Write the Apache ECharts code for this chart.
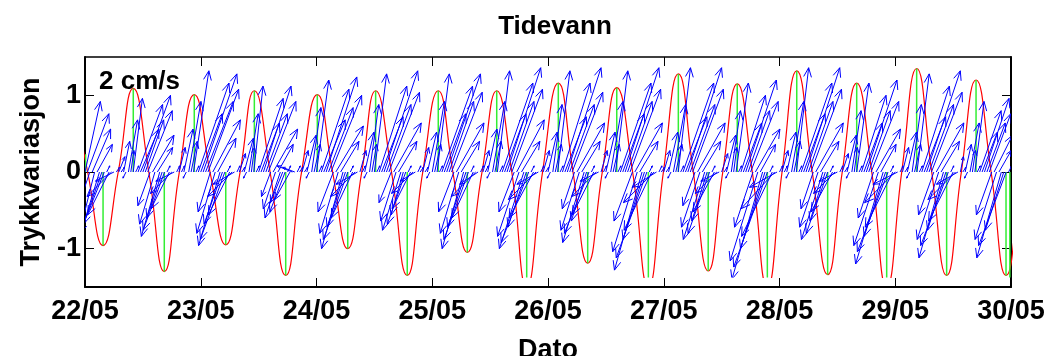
<!DOCTYPE html>
<html>
<head>
<meta charset="utf-8">
<script src="https://cdn.jsdelivr.net/npm/echarts@6/dist/echarts.min.js"></script>
<style>
  html, body { margin: 0; padding: 0; background: #fff; }
  #main { width: 1049px; height: 356px; }
</style>
</head>
<body>
<div id="main"></div>
<script>
    var FONT = '"Liberation Sans", Arial, Helvetica, sans-serif';

    var dayLabels = ['22/05', '23/05', '24/05', '25/05', '26/05', '27/05', '28/05', '29/05', '30/05'];
    var yTicks = [-1, 0, 1];

    // hoy- og lavvann: tid i dogn fra 22/05 00:00, niva
    var extT = [-0.11, 0.156, 0.417, 0.685, 0.944, 1.216, 1.463, 1.734, 2.007, 2.270, 2.511, 2.784, 3.052, 3.303,
        3.557, 3.816, 4.089, 4.343, 4.594, 4.867, 5.126, 5.384, 5.635, 5.895, 6.149, 6.416, 6.667, 6.926,
        7.185, 7.444, 7.698, 7.957, 8.22];
    var extH = [1.0, -0.96, 1.09, -1.30, 1.01, -0.95, 1.06, -1.35, 1.01, -1.00, 1.06, -1.35, 1.06, -1.05,
        1.06, -1.5, 1.16, -1.19, 1.10, -1.5, 1.28, -1.29, 1.15, -1.5, 1.32, -1.34, 1.16, -1.5,
        1.35, -1.35, 1.20, -1.35, 1.2];
    // nullgjennomganger
    var zeroT = [0.023, 0.287, 0.551, 0.815, 1.080, 1.340, 1.599, 1.871, 2.139, 2.391, 2.648, 2.918, 3.178,
        3.430, 3.687, 3.953, 4.216, 4.469, 4.731, 4.997, 5.255, 5.510, 5.765, 6.022, 6.283, 6.542, 6.797,
        7.056, 7.315, 7.571, 7.828, 8.09];
    // gronne pinner i kantene
    var edgeT = [0.005, 7.99];
    var edgeH = [0.23, -1.5];

    // strom (cm/s), hver halvtime fra 22/05 00:00
    var curStepH = 0.5;
    var curU = [
        0.5, 0.7, -0.4, 0.6, -0.6, 0.5, -0.7, -0.6, -0.8, 0.1, -0.7, -0.8, -0.6, 0.1,
        0.2, 0.1, 0.2, -0.1, 0.3, 0.1, 0.3, 0.1, 0.8, 0.6, 0.9, 0.6, 0.8, -0.4, 0.7, -0.5, 0.5, -0.6, -0.5, -0.7, 0.1, -0.6, -0.7, -0.6, 0.1,
        0.2, 0.1, 0.3, -0.1, 0.4, 0.2, 0.5, 0.1, 1.0, 0.7, 1.1, 0.9, 1.0, -0.4, 0.9, -0.6, 0.6, -0.7, -0.6, -0.8, 0.1, -0.7, -0.8, -0.7, 0.1,
        0.2, 0.1, 0.3, -0.1, 0.3, 0.1, 0.3, 0.1, 0.8, 0.6, 0.9, 0.7, 0.9, -0.3, 0.8, -0.4, 0.5, -0.5, -0.4, -0.5, 0.1, -0.5, -0.5, -0.4, 0.1, 0.1,
        0.2, 0.1, 0.3, -0.1, 0.3, 0.2, 0.4, 0.1, 0.9, 0.7, 1.0, 0.8, 1.0, -0.5, 0.9, -0.6, 0.6, -0.7, -0.6, -0.8, 0.1, -0.7, -0.8, -0.7,
        0.2, 0.1, 0.3, -0.1, 0.3, 0.15, 0.4, 0.1, 0.9, 0.7, 1.1, 0.8, 1.0, -0.4, 0.9, -0.5, 0.6, -0.6, -0.4, -0.6, 0.1, -0.6, -0.7, -0.5, 0.1, 0.1,
        0.2, 0.1, 0.3, -0.1, 0.4, 0.2, 0.4, 0.1, 1.0, 0.7, 1.1, 0.8, 1.0, -0.5, 0.9, -0.6, 0.6, -0.7, -0.6, -0.8, 0.1, -0.7, -0.8, -0.6, 0.1,
        0.2, 0.1, 0.3, -0.1, 0.4, 0.2, 0.4, 0.1, 1.0, 0.7, 1.1, 0.8, 1.0, -0.5, 0.9, -0.7, 0.6, -0.8, -0.6, -0.9, 0.1, -0.8, -0.9, -0.7, 0.1,
        0.2, 0.1, 0.3, -0.1, 0.3, 0.2, 0.4, 0.1, 0.9, 0.7, 1.1, 0.8, 1.0, -0.4, 0.9, -0.6, 0.6, -0.7, -0.5, -0.8, 0.1, -0.7, -0.8, -0.6,
        0.2, 0.1, 0.3, -0.1, 0.4, 0.2, 0.4, 0.1, 1.0, 0.7, 1.1, 0.8, 1.0, -0.6, 0.9, -0.8, 0.6, -0.9, -0.7, -1.0, 0.1, -0.9, -1.0, -0.8, 0.1, 0.1,
        0.2, 0.1, 0.3, -0.1, 0.4, 0.2, 0.4, 0.1, 1.0, 0.7, 1.1, 0.8, 1.0, -0.4, 0.9, -0.6, 0.6, -0.7, -0.5, -0.7, 0.1, -0.7, -0.7, -0.6,
        0.2, 0.1, 0.3, -0.1, 0.3, 0.1, 0.4, 0.1, 0.8, 0.6, 1.0, 0.7, 0.9, -0.6, 0.8, -0.9, 0.5, -1.0, -0.8, -1.1, 0.1, -1.0, -1.1, -0.9, 0.1,
        0.2, 0.1, 0.3, -0.1, 0.4, 0.2, 0.4, 0.1, 1.0, 0.7, 1.1, 0.8, 1.0, -0.4, 0.9, -0.6, 0.6, -0.7, -0.5, -0.7, 0.1, -0.7, -0.7, -0.6, 0.1,
        0.2, 0.1, 0.3, -0.1, 0.3, 0.1, 0.4, 0.1, 0.8, 0.6, 1.0, 0.7, 0.9, -0.5, 0.8, -0.8, 0.5, -0.9, -0.7, -1.0, 0.1, -0.9, -1.0, -0.8, 0.1,
        0.2, 0.1, 0.3, -0.1, 0.3, 0.2, 0.4, 0.1, 0.9, 0.7, 1.1, 0.8, 1.0, -0.5, 0.9, -0.7, 0.6, -0.8, -0.6, -0.9, 0.1, -0.8, -0.9, -0.7,
        0.1, 0.1, 0.2, -0.1, 0.3, 0.1, 0.3, 0.1, 0.7, 0.5, 0.8, 0.6, 0.7, -0.5, 0.6, -0.7, 0.4, -0.8, -0.6, -0.9, 0.1
    ];
    var curV = [
        2.3, 1.9, -1.2, 1.4, -2.4, 0.9, -2.3, -1.7, -2.0, 0.2, -1.4, -0.8, -0.3, 0.15,
        0.5, 0.15, 1.0, -0.2, 1.7, 0.7, 2.4, 0.2, 2.2, 1.4, 2.5, 1.7, 2.0, -1.1, 1.2, -1.7, 0.8, -2.1, -1.5, -1.9, 0.2, -1.2, -0.7, -0.3, 0.2,
        0.8, 0.2, 1.4, -0.2, 2.3, 1.0, 3.3, 0.2, 2.9, 1.9, 3.2, 2.3, 2.7, -1.3, 1.7, -2.0, 1.1, -2.4, -1.7, -2.2, 0.2, -1.4, -0.8, -0.4, 0.2,
        0.6, 0.15, 1.1, -0.2, 1.9, 0.8, 2.8, 0.2, 2.4, 1.6, 2.8, 1.9, 2.3, -0.8, 1.4, -1.2, 0.9, -1.5, -1.0, -1.3, 0.2, -0.9, 0.2, 0.15, 0.2, 0.15,
        0.7, 0.15, 1.2, -0.2, 2.1, 0.9, 3.0, 0.2, 2.7, 1.7, 3.1, 2.1, 2.5, -1.3, 1.5, -2.0, 1.0, -2.5, -1.8, -2.2, 0.2, -1.5, -0.8, -0.4,
        0.7, 0.2, 1.3, -0.2, 2.2, 0.9, 3.2, 0.2, 2.8, 1.8, 3.3, 2.2, 2.6, -1.0, 1.6, -1.6, 1.0, -1.9, -1.4, -1.7, 0.2, -1.2, -0.7, -0.3, 0.2, 0.15,
        0.8, 0.15, 1.3, -0.2, 2.3, 0.9, 3.2, 0.2, 2.8, 1.9, 3.2, 2.3, 2.6, -1.3, 1.6, -2.0, 1.0, -2.5, -1.8, -2.2, 0.2, -1.5, -0.8, -0.4, 0.2,
        0.7, 0.2, 1.4, -0.2, 2.3, 1.0, 3.3, 0.2, 2.9, 1.9, 3.4, 2.3, 2.7, -1.3, 1.7, -2.1, 1.0, -2.5, -1.8, -2.3, 0.2, -1.5, -0.9, -0.4, 0.2,
        0.7, 0.15, 1.3, -0.2, 2.2, 0.9, 3.3, 0.2, 2.9, 1.8, 3.4, 2.2, 2.6, -1.2, 1.6, -1.9, 1.0, -2.3, -1.6, -2.0, 0.2, -1.4, -0.8, -0.3,
        0.7, 0.2, 1.3, -0.2, 2.3, 0.9, 3.3, 0.2, 2.9, 1.9, 3.4, 2.3, 2.7, -1.6, 1.6, -2.6, 1.0, -3.2, -2.2, -2.8, 0.2, -1.9, -1.0, -0.5, 0.2, 0.15,
        0.7, 0.15, 1.3, -0.2, 2.2, 0.9, 3.4, 0.2, 2.9, 1.8, 3.4, 2.2, 2.7, -1.1, 1.6, -1.8, 1.0, -2.2, -1.6, -2.0, 0.2, -1.3, -0.7, -0.3,
        0.6, 0.15, 1.2, -0.2, 2.0, 0.8, 2.9, 0.2, 2.5, 1.6, 3.0, 2.0, 2.3, -1.8, 1.4, -2.9, 0.9, -3.5, -2.5, -3.1, 0.2, -2.1, -1.2, -0.5, 0.2,
        0.7, 0.2, 1.3, -0.2, 2.3, 1.0, 3.4, 0.2, 2.9, 1.9, 3.4, 2.3, 2.7, -1.2, 1.6, -1.8, 1.0, -2.2, -1.6, -2.0, 0.2, -1.3, -0.7, -0.3, 0.2,
        0.6, 0.15, 1.2, -0.2, 2.0, 0.8, 2.9, 0.2, 2.5, 1.6, 3.0, 2.0, 2.3, -1.5, 1.4, -2.4, 0.9, -3.0, -2.1, -2.6, 0.2, -1.8, -1.0, -0.4, 0.2,
        0.8, 0.15, 1.3, -0.2, 2.2, 0.9, 3.2, 0.2, 2.8, 1.8, 3.3, 2.2, 2.6, -1.4, 1.6, -2.2, 1.0, -2.8, -1.9, -2.4, 0.2, -1.6, -0.9, -0.4,
        0.5, 0.15, 0.9, -0.2, 1.6, 0.7, 2.3, 0.2, 2.0, 1.3, 2.4, 1.6, 1.9, -1.4, 1.2, -2.2, 0.7, -2.8, -1.9, -2.4, 0.2
    ];
    var vecScale = 0.4; // aksenheter per cm/s

    // kurve: ekstremer + nullpunkter
    var tide = [];
    extT.forEach(function (t, i) { tide.push([t, extH[i]]); });
    zeroT.forEach(function (t) { tide.push([t, 0]); });
    tide.sort(function (a, b) { return a[0] - b[0]; });

    var sticks = [];
    extT.forEach(function (t, i) { sticks.push([t, extH[i]]); });
    edgeT.forEach(function (t, i) { sticks.push([t, edgeH[i]]); });

    var arrows = curU.map(function (u, i) {
        return [i * curStepH / 24, u, curV[i]];
    });

    function renderStick(params, api) {
        var p0 = api.coord([api.value(0), 0]);
        var p1 = api.coord([api.value(0), api.value(1)]);
        return {
            type: 'line',
            shape: { x1: p0[0], y1: p0[1], x2: p1[0], y2: p1[1] },
            style: { stroke: '#33ee33', lineWidth: 1.5 }
        };
    }

    function renderArrow(params, api) {
        var p = api.coord([api.value(0), 0]);
        var k = api.size([0, 1])[1] * vecScale;
        var dx = api.value(1) * k, dy = -api.value(2) * k;
        var len = Math.sqrt(dx * dx + dy * dy);
        var tx = p[0] + dx, ty = p[1] + dy;
        var h = Math.min(len * 0.25, 10), a = Math.atan2(dy, dx), w = 0.4;
        var b1 = [tx - h * Math.cos(a - w), ty - h * Math.sin(a - w)];
        var b2 = [tx - h * Math.cos(a + w), ty - h * Math.sin(a + w)];
        var st = { stroke: '#0000ff', lineWidth: 1, fill: 'none' };
        return {
            type: 'group',
            children: [
                { type: 'polyline', shape: { points: [p, [tx, ty]] }, style: st },
                { type: 'polyline', shape: { points: [b1, [tx, ty], b2] }, style: st }
            ]
        };
    }

    var myChart = echarts.init(document.getElementById('main'));
    var lab = { color: '#000', fontSize: 27, fontWeight: 'bold', fontFamily: FONT };

    option = {
        animation: false,
        backgroundColor: '#fff',
        title: {
            text: 'Tidevann',
            left: 550,
            textAlign: 'center',
            top: 9,
            textStyle: { color: '#000', fontSize: 26, fontWeight: 'bold', fontFamily: FONT }
        },
        graphic: [{
            type: 'text',
            left: 99,
            top: 69,
            style: { text: '2 cm/s', font: 'bold 26px ' + FONT, fill: '#000' },
            z: 100
        }],
        grid: [
            { left: 85, right: 38, top: 57, height: 230, containLabel: false, outerBoundsMode: 'none' },
            { left: 85, right: 38, top: 66.6, height: 210.8, containLabel: false, outerBoundsMode: 'none' }
        ],
        xAxis: [
            {
                type: 'value', gridIndex: 0, min: 0, max: 8, interval: 1,
                name: 'Dato', nameLocation: 'middle', nameGap: 50,
                nameTextStyle: lab,
                axisLine: { onZero: false, lineStyle: { color: '#000', width: 2 } },
                axisTick: { inside: true, length: 9, lineStyle: { color: '#000', width: 1 } },
                axisLabel: Object.assign({ margin: 11, formatter: function (v) { return dayLabels[v]; } }, lab),
                splitLine: { show: false }
            },
            {
                type: 'value', gridIndex: 0, position: 'top', min: 0, max: 8, interval: 1,
                axisLine: { onZero: false, lineStyle: { color: '#000', width: 1.5 } },
                axisTick: { inside: true, length: 9, lineStyle: { color: '#000', width: 1 } },
                axisLabel: { show: false },
                splitLine: { show: false }
            },
            { type: 'value', gridIndex: 1, min: 0, max: 8, show: false }
        ],
        yAxis: [
            {
                type: 'value', gridIndex: 0, min: -1.5, max: 1.5,
                name: 'Trykkvariasjon', nameLocation: 'middle', nameGap: 40,
                nameTextStyle: lab,
                axisLine: { show: true, onZero: false, lineStyle: { color: '#000', width: 2 } },
                axisTick: { show: true, inside: true, length: 9, customValues: yTicks, lineStyle: { color: '#000', width: 1 } },
                axisLabel: Object.assign({ margin: 4, customValues: yTicks }, lab),
                splitLine: { show: false }
            },
            {
                type: 'value', gridIndex: 0, position: 'right', min: -1.5, max: 1.5,
                axisLine: { show: true, onZero: false, lineStyle: { color: '#000', width: 2 } },
                axisTick: { show: true, inside: true, length: 9, customValues: yTicks, lineStyle: { color: '#000', width: 1 } },
                axisLabel: { show: false },
                splitLine: { show: false }
            },
            { type: 'value', gridIndex: 1, min: -1.375, max: 1.375, show: false }
        ],
        series: [
            {
                type: 'line',
                xAxisIndex: 2, yAxisIndex: 2,
                data: tide,
                smooth: true,
                showSymbol: false,
                clip: true,
                lineStyle: { color: '#ff0000', width: 1.2 },
                z: 2
            },
            {
                type: 'custom',
                xAxisIndex: 2, yAxisIndex: 2,
                data: sticks,
                renderItem: renderStick,
                clip: true,
                z: 3
            },
            {
                type: 'custom',
                xAxisIndex: 2, yAxisIndex: 2,
                data: arrows,
                renderItem: renderArrow,
                clip: true,
                z: 4
            }
        ]
    };
    myChart.setOption(option);
</script>
</body>
</html>
